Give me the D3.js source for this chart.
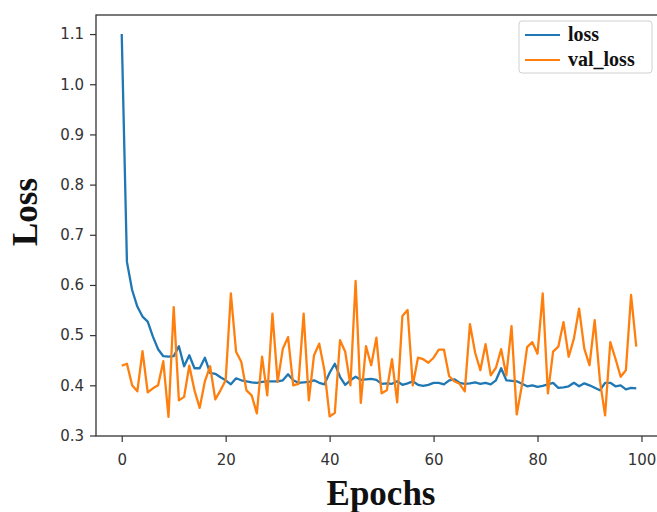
<!DOCTYPE html>
<html>
<head>
<meta charset="utf-8">
<script src="https://cdn.jsdelivr.net/npm/d3@7"></script>
<style>
  html, body { margin: 0; padding: 0; background: #fff; }
  svg { display: block; }
  .tick text { font-family: "DejaVu Sans", sans-serif; font-size: 15px; fill: #333; }
  .tick line { stroke: #333; stroke-width: 1.2; }
</style>
</head>
<body>
<svg id="chart" width="657" height="512"></svg>
<script>
// Training history, one value per epoch
const epochs = d3.range(0, 100);

const loss = [
  1.10, 0.646, 0.59, 0.557, 0.537, 0.527, 0.497, 0.472, 0.458, 0.457,
  0.458, 0.478, 0.438, 0.46, 0.434, 0.434, 0.455, 0.425, 0.423, 0.416,
  0.41, 0.402, 0.414, 0.41, 0.408, 0.406, 0.405, 0.407, 0.408, 0.408,
  0.408, 0.41, 0.422, 0.41, 0.405, 0.406, 0.407, 0.41, 0.405, 0.402,
  0.425, 0.443, 0.417, 0.401, 0.41, 0.417, 0.411, 0.412, 0.413, 0.411,
  0.403, 0.404, 0.403, 0.408, 0.401, 0.404, 0.408, 0.401, 0.399, 0.401,
  0.405, 0.405, 0.402, 0.41, 0.412, 0.405, 0.403, 0.404, 0.406, 0.403,
  0.405, 0.402, 0.41, 0.434, 0.41, 0.409, 0.408, 0.403, 0.398, 0.40,
  0.397, 0.399, 0.402, 0.405, 0.395, 0.396, 0.398, 0.405, 0.398, 0.404,
  0.40, 0.395, 0.39, 0.405, 0.405, 0.398, 0.40, 0.392, 0.395, 0.394,
];

const valLoss = [
  0.439, 0.443, 0.40, 0.388, 0.468, 0.386, 0.394, 0.40, 0.448, 0.337,
  0.556, 0.37, 0.377, 0.439, 0.39, 0.355, 0.408, 0.438, 0.372, 0.39,
  0.41, 0.583, 0.467, 0.447, 0.39, 0.38, 0.344, 0.457, 0.38, 0.543,
  0.407, 0.473, 0.496, 0.40, 0.403, 0.543, 0.37, 0.46, 0.483, 0.43,
  0.338, 0.345, 0.49, 0.467, 0.40, 0.608, 0.365, 0.478, 0.44, 0.495,
  0.384, 0.39, 0.452, 0.366, 0.538, 0.55, 0.40, 0.455, 0.452, 0.445,
  0.455, 0.471, 0.471, 0.418, 0.408, 0.403, 0.388, 0.522, 0.465, 0.43,
  0.482, 0.42, 0.435, 0.472, 0.42, 0.518, 0.342, 0.40, 0.476, 0.486,
  0.463, 0.583, 0.384, 0.467, 0.477, 0.526, 0.457, 0.493, 0.553, 0.473,
  0.44, 0.53, 0.41, 0.34, 0.486, 0.453, 0.417, 0.43, 0.58, 0.477,
];

const xTicks = [0, 20, 40, 60, 80, 100];
const yTicks = [0.3, 0.4, 0.5, 0.6, 0.7, 0.8, 0.9, 1.0, 1.1];

const seriesNames = ['loss', 'val_loss'];
const seriesColors = ['#1f77b4', '#ff7f0e'];

// Plot box (right spine falls just outside the picture, as in the source)
const plot = { left: 96, right: 662, top: 15, bottom: 436 };

const svg = d3.select('#chart');

const x = d3.scaleLinear().domain([-4.95, 103.95]).range([plot.left, plot.right]);
const y = d3.scaleLinear().domain([0.299, 1.138]).range([plot.bottom, plot.top]);

// Axes
svg.append('g')
  .attr('transform', `translate(0,${plot.bottom})`)
  .call(d3.axisBottom(x).tickValues(xTicks).tickSize(6).tickPadding(12).tickFormat(d3.format('d')))
  .call((g) => g.select('.domain').remove());

svg.append('g')
  .attr('transform', `translate(${plot.left},0)`)
  .call(d3.axisLeft(y).tickValues(yTicks).tickSize(6).tickPadding(6).tickFormat(d3.format('.1f')))
  .call((g) => g.select('.domain').remove());

// Spines
svg.append('rect')
  .attr('x', plot.left)
  .attr('y', plot.top)
  .attr('width', plot.right - plot.left)
  .attr('height', plot.bottom - plot.top)
  .attr('fill', 'none')
  .attr('stroke', '#333')
  .attr('stroke-width', 1.3);

// Lines
const line = d3.line()
  .x((d) => x(d.e))
  .y((d) => y(d.v));

[loss, valLoss].forEach((values, i) => {
  svg.append('path')
    .datum(epochs.map((e) => ({ e, v: values[e] })))
    .attr('fill', 'none')
    .attr('stroke', seriesColors[i])
    .attr('stroke-width', 2.3)
    .attr('stroke-linejoin', 'round')
    .attr('d', line);
});

// Legend
const legend = svg.append('g').attr('transform', 'translate(519,21)');
legend.append('rect')
  .attr('width', 133)
  .attr('height', 52)
  .attr('rx', 3)
  .attr('fill', 'rgba(255,255,255,0.8)')
  .attr('stroke', '#d0d0d0');

seriesNames.forEach((name, i) => {
  const row = legend.append('g').attr('transform', `translate(0,${14 + i * 25})`);
  row.append('line')
    .attr('x1', 6).attr('x2', 41)
    .attr('stroke', seriesColors[i])
    .attr('stroke-width', 2.2);
  row.append('text')
    .attr('x', 49)
    .attr('y', 6)
    .attr('font-family', '"Liberation Serif", "Times New Roman", serif')
    .attr('font-weight', 'bold')
    .attr('font-size', 20)
    .attr('fill', '#111')
    .text(name);
});

// Axis titles
svg.append('text')
  .attr('x', 381)
  .attr('y', 505)
  .attr('text-anchor', 'middle')
  .attr('font-family', '"Liberation Serif", "Times New Roman", serif')
  .attr('font-weight', 'bold')
  .attr('font-size', 35)
  .attr('fill', '#111')
  .text('Epochs');

svg.append('text')
  .attr('transform', 'translate(37,212) rotate(-90)')
  .attr('text-anchor', 'middle')
  .attr('font-family', '"Liberation Serif", "Times New Roman", serif')
  .attr('font-weight', 'bold')
  .attr('font-size', 35)
  .attr('fill', '#111')
  .text('Loss');
</script>
</body>
</html>
